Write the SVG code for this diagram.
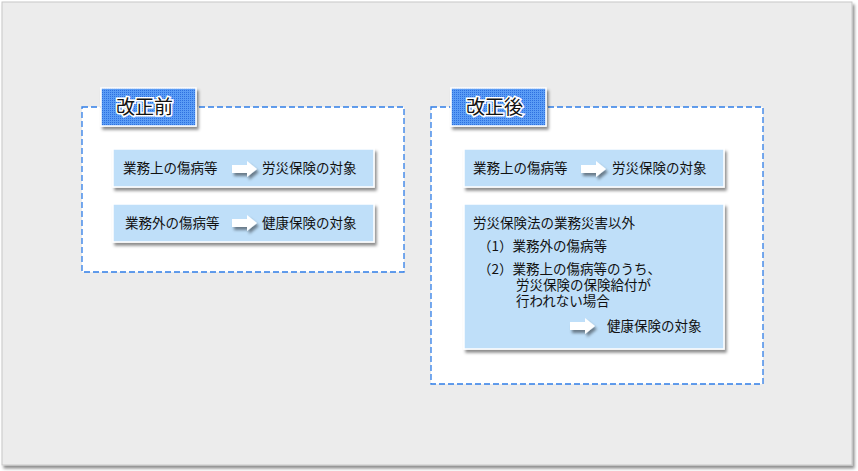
<svg xmlns="http://www.w3.org/2000/svg" width="858" height="471" viewBox="0 0 858 471">
<defs>
<pattern id="dots" width="2" height="2" patternUnits="userSpaceOnUse"><rect width="2" height="2" fill="#5a9cf5"/><rect width="1" height="1" fill="#2f6fe0"/></pattern>
<filter id="sh" x="-10%" y="-10%" width="130%" height="140%"><feDropShadow dx="2" dy="3" stdDeviation="1.5" flood-color="#000" flood-opacity="0.45"/></filter>
<symbol id="arr" viewBox="0 0 26 16"><path d="M0 4H15V0L25 8L15 16V12H0Z" fill="#fff"/></symbol>
</defs>
<style>
.t{font-family:"Noto Sans CJK JP",sans-serif;font-size:13.5px;fill:#111}
.h{font-family:"Noto Sans CJK JP",sans-serif;font-size:19px;fill:#111;stroke:#fff;stroke-width:3;paint-order:stroke}
.dash{fill:#fff;stroke:#2f7de8;stroke-width:1.3;stroke-dasharray:6 3}
.box{fill:#bfdff9;stroke:#fff;stroke-width:1.5;filter:url(#sh)}
.tab{fill:url(#dots);stroke:#fff;stroke-width:1.5;filter:url(#sh)}
</style>
<rect width="858" height="471" fill="#fff"/>
<rect x="2" y="2" width="850" height="463" fill="#ececec" stroke="#c8c8c8" filter="url(#sh)"/>
<g id="before">
<rect class="dash" x="82" y="107" width="322" height="165"/>
<g id="tab1"><rect class="tab" x="101" y="88" width="95" height="38"/><text class="h" x="116" y="114">改正前</text></g>
<g id="b1"><rect class="box" x="113" y="149" width="261" height="38"/><text class="t" x="123" y="173">業務上の傷病等</text><use href="#arr" x="232" y="161" width="26" height="16" filter="url(#sh)"/><text class="t" x="262" y="173">労災保険の対象</text></g>
<g id="b2"><rect class="box" x="113" y="204" width="261" height="38"/><text class="t" x="125" y="228">業務外の傷病等</text><use href="#arr" x="232" y="215" width="26" height="16" filter="url(#sh)"/><text class="t" x="262" y="228">健康保険の対象</text></g>
</g>
<g id="after">
<rect class="dash" x="431" y="107" width="332" height="277"/>
<g id="tab2"><rect class="tab" x="451" y="88" width="95" height="38"/><text class="h" x="466" y="114">改正後</text></g>
<g id="b3"><rect class="box" x="464" y="149" width="260" height="38"/><text class="t" x="473" y="173">業務上の傷病等</text><use href="#arr" x="581" y="161" width="26" height="16" filter="url(#sh)"/><text class="t" x="612" y="173">労災保険の対象</text></g>
<g id="b4"><rect class="box" x="464" y="204" width="260" height="145"/>
<text class="t" x="473" y="228">労災保険法の業務災害以外</text>
<text class="t" x="478" y="251">（1）業務外の傷病等</text>
<text class="t" x="478" y="274">（2）業務上の傷病等のうち、</text>
<text class="t" x="516" y="290">労災保険の保険給付が</text>
<text class="t" x="516" y="306">行われない場合</text>
<use href="#arr" x="570" y="318" width="26" height="16" filter="url(#sh)"/>
<text class="t" x="607" y="331">健康保険の対象</text></g>
</g>
<g id="connectors"/>
</svg>
